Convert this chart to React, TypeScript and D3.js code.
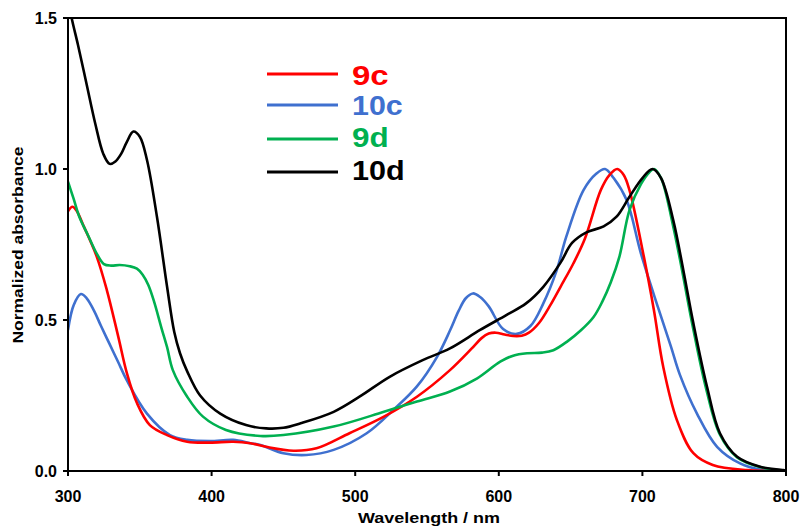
import React from "react";
import * as d3 from "d3";

const xTicks = [300, 400, 500, 600, 700, 800];
const yTicks = [0.0, 0.5, 1.0, 1.5];

const seriesNames = ["9c", "10c", "9d", "10d"];
const seriesColors = ["#ff0000", "#3f70cf", "#00b050", "#000000"];

const data9c: [number, number][] = [
  [300, 0.86], [303, 0.875], [306, 0.862], [311, 0.81], [320, 0.71], [327, 0.6], [335, 0.445],
  [341, 0.324], [348, 0.225], [357, 0.152], [369, 0.119], [383, 0.097], [399, 0.094], [415, 0.097],
  [427, 0.092], [438, 0.08], [457, 0.067], [473, 0.075], [496, 0.125], [520, 0.18], [543, 0.246],
  [566, 0.334], [581, 0.405], [588, 0.44], [593, 0.455], [598, 0.458], [604, 0.452], [610, 0.447],
  [616, 0.448], [621, 0.458], [628, 0.49], [636, 0.55], [643, 0.61], [652, 0.688], [660, 0.77],
  [671, 0.93], [677, 0.98], [682.5, 1.0], [687, 0.98], [691, 0.93], [701, 0.71], [708, 0.533],
  [714.5, 0.345], [724, 0.169], [735.5, 0.059], [749, 0.02], [773, 0.003], [800, 0.0],
];

const data10c: [number, number][] = [
  [300, 0.467], [304, 0.55], [309, 0.586], [313, 0.572], [318, 0.532], [323, 0.48], [329, 0.42],
  [335, 0.36], [341, 0.3], [355, 0.19], [371, 0.119], [383, 0.103], [399, 0.099], [415, 0.103],
  [427, 0.092], [434, 0.086], [450, 0.059], [466, 0.053], [485, 0.07], [508, 0.125], [526.5, 0.202],
  [543, 0.28], [557, 0.378], [566, 0.465], [572, 0.53], [577, 0.572], [582, 0.588], [587, 0.576],
  [593, 0.545], [603, 0.47], [612.5, 0.454], [622, 0.48], [631, 0.555], [640, 0.66], [647, 0.776],
  [659, 0.93], [668, 0.985], [674, 1.0], [680, 0.97], [689, 0.897], [699, 0.72], [711, 0.54],
  [720, 0.41], [726, 0.32], [738, 0.19], [752, 0.08], [768, 0.025], [784, 0.003], [800, 0.0],
];

const data9d: [number, number][] = [
  [300, 0.958], [304, 0.9], [308, 0.84], [314, 0.78], [320, 0.72], [325, 0.685], [330, 0.68],
  [336, 0.682], [343, 0.678], [348, 0.67], [352, 0.65], [356, 0.615], [360, 0.56], [365, 0.475],
  [369, 0.41], [373, 0.334], [383, 0.246], [394, 0.18], [410, 0.136], [434, 0.116], [450, 0.119],
  [485, 0.147], [520, 0.196], [543, 0.23], [566, 0.263], [585, 0.307], [601, 0.362], [610, 0.382],
  [620, 0.39], [630, 0.392], [638, 0.4], [648, 0.43], [657, 0.465], [666, 0.51], [672, 0.56],
  [678, 0.625], [684, 0.71], [691, 0.864], [699, 0.95], [705, 0.99], [708, 1.0], [713, 0.97],
  [721, 0.82], [728, 0.655], [735, 0.48], [744.5, 0.27], [754, 0.12], [766, 0.045], [782, 0.013],
  [800, 0.0],
];

const data10d: [number, number][] = [
  [300, 1.56], [303, 1.49], [307, 1.41], [313, 1.28], [319, 1.15], [324.6, 1.05], [329, 1.017],
  [333, 1.025], [337, 1.05], [341, 1.09], [345.5, 1.124], [350, 1.107], [355, 1.03], [362, 0.84],
  [369, 0.61], [374, 0.46], [378, 0.39], [383, 0.33], [392, 0.25], [406, 0.19], [424, 0.152],
  [438, 0.141], [450, 0.143], [462, 0.158], [485, 0.196], [503, 0.246], [524, 0.312], [547, 0.367],
  [566, 0.406], [587, 0.467], [605.5, 0.517], [619, 0.555], [631, 0.61], [643, 0.69], [651, 0.755],
  [661, 0.79], [673, 0.81], [682, 0.842], [691, 0.908], [700, 0.97], [707, 1.0], [713, 0.97],
  [721.5, 0.83], [728.5, 0.665], [735.5, 0.489], [745, 0.279], [754, 0.125], [766, 0.047],
  [782, 0.014], [798, 0.003], [800, 0.0],
];

const allSeries = [data9c, data10c, data9d, data10d];
const drawOrder = [1, 0, 2, 3];

const legendLengths = [36.7, 50.7, 36.7, 52.7];

export default function App() {
  const W = 802, H = 528;
  const left = 68, right = 786, top = 18, bottom = 471;
  const x = d3.scaleLinear().domain([300, 800]).range([left, right]);
  const y = d3.scaleLinear().domain([0, 1.5]).range([bottom, top]);
  const line = d3
    .line<[number, number]>()
    .x((d) => x(d[0]))
    .y((d) => y(d[1]))
    .curve(d3.curveCatmullRom.alpha(0.5));

  const font = "'Liberation Sans', Arial, Helvetica, sans-serif";
  const legendY = [74, 105, 139, 172];
  const legendBase = [85, 115, 147, 180];

  return (
    <svg
      width={W}
      height={H}
      style={{ position: "absolute", left: 0, top: 0, background: "#fff" }}
      fontFamily={font}
    >
      <defs>
        <clipPath id="plotclip">
          <rect x={left} y={top} width={right - left} height={bottom - top} />
        </clipPath>
      </defs>
      <rect x={0} y={0} width={W} height={H} fill="#fff" />

      <g clipPath="url(#plotclip)">
        {drawOrder.map((i) => (
          <path
            key={i}
            d={line(allSeries[i]) || ""}
            fill="none"
            stroke={seriesColors[i]}
            strokeWidth={2.6}
            strokeLinejoin="round"
          />
        ))}
      </g>

      {/* frame */}
      <rect x={left} y={top} width={right - left} height={bottom - top} fill="none" stroke="#000" strokeWidth={2} />

      {/* y ticks */}
      {yTicks.map((t) => (
        <g key={t}>
          <line x1={left - 5} x2={left} y1={y(t)} y2={y(t)} stroke="#000" strokeWidth={2} />
          <text
            x={57}
            y={y(t)}
            dy="0.36em"
            textAnchor="end"
            fontSize={16}
            fontWeight="bold"
            fill="#000"
          >
            {t.toFixed(1)}
          </text>
        </g>
      ))}

      {/* x ticks */}
      {xTicks.map((t) => (
        <g key={t}>
          <line x1={x(t)} x2={x(t)} y1={bottom} y2={bottom + 5} stroke="#000" strokeWidth={2} />
          <text x={x(t)} y={501.5} textAnchor="middle" fontSize={16} fontWeight="bold" fill="#000">
            {t}
          </text>
        </g>
      ))}

      <text
        x={429}
        y={523}
        textAnchor="middle"
        fontSize={15}
        fontWeight="bold"
        fill="#000"
        textLength={142}
        lengthAdjust="spacingAndGlyphs"
      >
        Wavelength / nm
      </text>

      <text
        transform={`translate(23, 245) rotate(-90)`}
        textAnchor="middle"
        fontSize={14}
        fontWeight="bold"
        fill="#000"
        textLength={197}
        lengthAdjust="spacingAndGlyphs"
      >
        Normalized absorbance
      </text>

      {/* legend */}
      {seriesNames.map((name, i) => (
        <g key={name}>
          <line
            x1={267}
            x2={338}
            y1={legendY[i]}
            y2={legendY[i]}
            stroke={seriesColors[i]}
            strokeWidth={3}
          />
          <text
            x={352}
            y={legendBase[i]}
            fontSize={27}
            fontWeight="bold"
            fill={seriesColors[i]}
            textLength={legendLengths[i]}
            lengthAdjust="spacingAndGlyphs"
          >
            {name}
          </text>
        </g>
      ))}
    </svg>
  );
}
